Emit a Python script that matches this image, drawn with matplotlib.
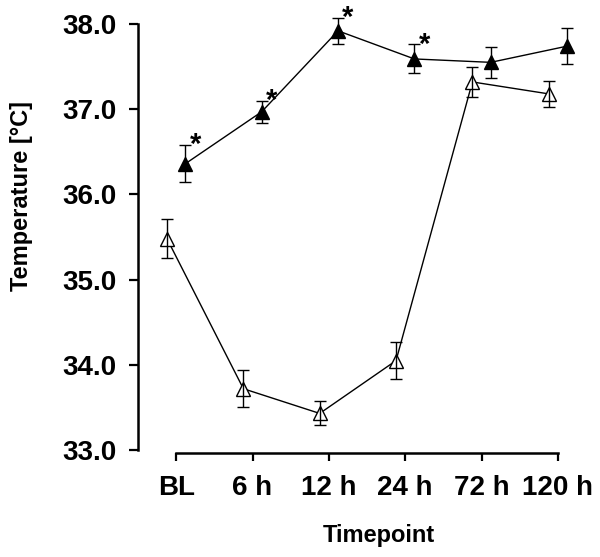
import numpy as np
import matplotlib
matplotlib.use("Agg")
import matplotlib.pyplot as plt

plt.rcParams['font.family'] = ['Liberation Sans', 'DejaVu Sans']
plt.rcParams['font.weight'] = 'bold'

# data
timepoints = ["BL", "6 h", "12 h", "24 h", "72 h", "120 h"]
open_mean = [35.48, 33.72, 33.43, 34.05, 37.32, 37.18]
open_sem = [0.23, 0.22, 0.14, 0.22, 0.18, 0.15]
filled_mean = [36.36, 36.97, 37.92, 37.59, 37.55, 37.74]
filled_sem = [0.22, 0.13, 0.15, 0.17, 0.18, 0.21]
signif = [True, True, True, True, False, False]

x = np.arange(len(timepoints))
shift = 0.12

fig = plt.figure(figsize=(6, 5.57), dpi=100)
ax = fig.add_axes([0.23, 0.1874, 0.738, 0.7848])

# open triangles (left of tick)
ax.plot(x - shift, open_mean, color='black', lw=1, marker='^', ms=10.5,
        mfc='white', mec='black', mew=1, zorder=2)
ax.errorbar(x - shift, open_mean, yerr=open_sem, fmt='none', ecolor='black',
            elinewidth=1, capsize=4, capthick=1, zorder=3)

# filled triangles (right of tick)
ax.plot(x + shift, filled_mean, color='black', lw=1, marker='^', ms=10.5,
        mfc='black', mec='black', mew=1, zorder=2)
ax.errorbar(x + shift, filled_mean, yerr=filled_sem, fmt='none', ecolor='black',
            elinewidth=1, capsize=4, capthick=1, zorder=3)

# significance stars
for i in range(len(x)):
    if signif[i]:
        ax.annotate('*', (x[i] + shift, filled_mean[i] + filled_sem[i]),
                    xytext=(7.2, -6), textcoords='offset points',
                    ha='center', va='baseline', fontsize=21, fontweight='bold')

ax.set_xlim(-0.5, 5.3)
ax.set_ylim(32.97, 38.1)
ax.set_yticks([33, 34, 35, 36, 37, 38])
ax.set_yticklabels(['33.0', '34.0', '35.0', '36.0', '37.0', '38.0'])
ax.set_xticks(x)
ax.set_xticklabels(timepoints)

for s in ['top', 'right']:
    ax.spines[s].set_visible(False)
ax.spines['left'].set_bounds(33, 38)
ax.spines['bottom'].set_bounds(0, 5)
ax.spines['left'].set_linewidth(1.8)
ax.spines['bottom'].set_linewidth(1.8)
ax.spines['bottom'].set_position(('data', 32.965))

ax.tick_params(axis='y', length=6.5, width=1.6, pad=9, labelsize=20)
ax.tick_params(axis='x', length=6, width=1.6, pad=10, labelsize=20)
for lab in ax.get_xticklabels() + ax.get_yticklabels():
    lab.set_fontweight('bold')

ax.set_ylabel('Temperature [°C]', fontsize=17, fontweight='bold')
ax.yaxis.set_label_coords(-0.237, 0.587)
ax.set_xlabel('Timepoint', fontsize=17, fontweight='bold')
ax.xaxis.set_label_coords(0.544, -0.163)

fig.savefig('out.png', dpi=100)
